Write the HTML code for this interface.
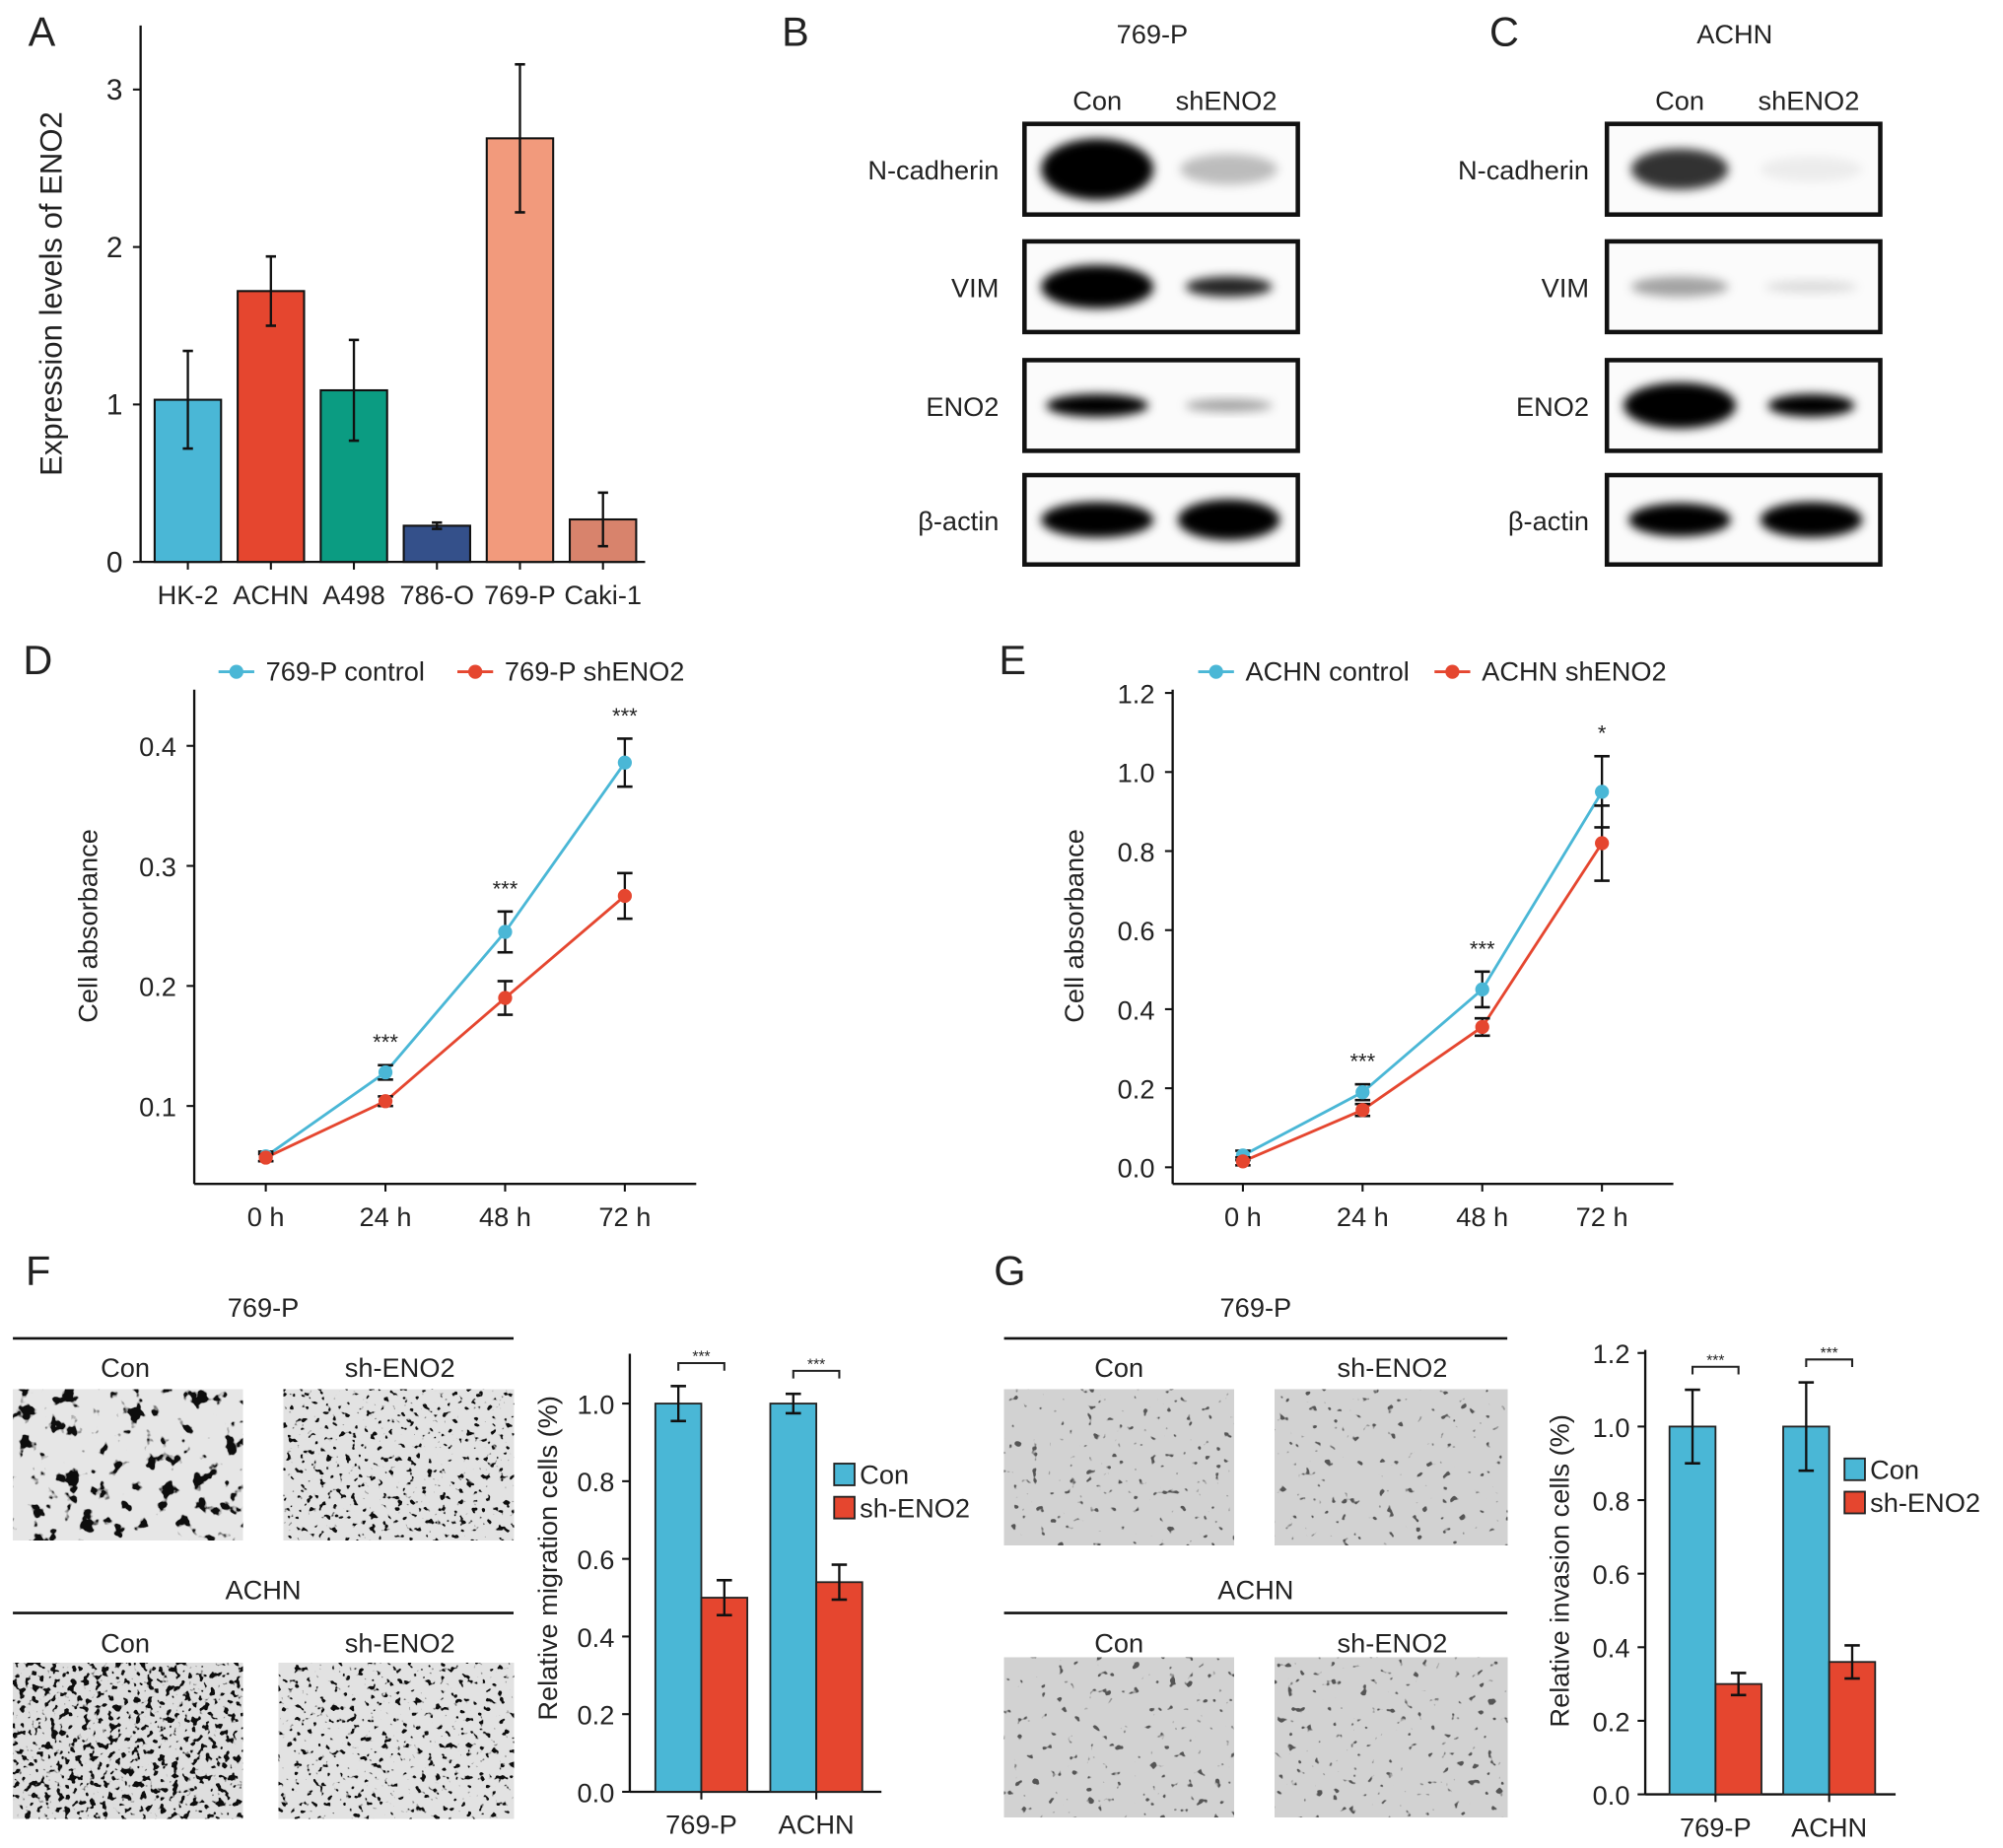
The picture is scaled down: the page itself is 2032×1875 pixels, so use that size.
<!DOCTYPE html>
<html><head><meta charset="utf-8">
<style>
html,body{margin:0;padding:0;background:#fff;}
svg{display:block;font-family:"Liberation Sans",Arial,sans-serif;}
</style></head>
<body>
<svg id="fig" width="2032" height="1875" viewBox="0 0 1568 1447" xmlns="http://www.w3.org/2000/svg">
<defs>
<filter id="blur3" x="-20%" y="-50%" width="140%" height="200%"><feGaussianBlur stdDeviation="4"/></filter>
<filter id="cellsF" x="0" y="0" width="100%" height="100%">
<feTurbulence type="fractalNoise" baseFrequency="0.08" numOctaves="3" seed="3" result="n"/>
<feColorMatrix in="n" type="matrix" values="0 0 0 0 0  0 0 0 0 0  0 0 0 0 0  -14 0 0 0 5.6" result="a"/>
<feFlood flood-color="#111"/><feComposite in2="a" operator="in" result="d"/>
<feFlood flood-color="#e6e6e6" result="bg"/><feMerge><feMergeNode in="bg"/><feMergeNode in="d"/></feMerge>
</filter>
<filter id="cellsF2" x="0" y="0" width="100%" height="100%">
<feTurbulence type="fractalNoise" baseFrequency="0.2" numOctaves="2" seed="7" result="n"/>
<feColorMatrix in="n" type="matrix" values="0 0 0 0 0  0 0 0 0 0  0 0 0 0 0  -14 0 0 0 5.4" result="a"/>
<feFlood flood-color="#111"/><feComposite in2="a" operator="in" result="d"/>
<feFlood flood-color="#e2e2e2" result="bg"/><feMerge><feMergeNode in="bg"/><feMergeNode in="d"/></feMerge>
</filter>
<filter id="cellsF3" x="0" y="0" width="100%" height="100%">
<feTurbulence type="fractalNoise" baseFrequency="0.2" numOctaves="2" seed="9" result="n"/>
<feColorMatrix in="n" type="matrix" values="0 0 0 0 0  0 0 0 0 0  0 0 0 0 0  -14 0 0 0 6.2" result="a"/>
<feFlood flood-color="#111"/><feComposite in2="a" operator="in" result="d"/>
<feFlood flood-color="#dedede" result="bg"/><feMerge><feMergeNode in="bg"/><feMergeNode in="d"/></feMerge>
</filter>
<filter id="cellsG" x="0" y="0" width="100%" height="100%">
<feTurbulence type="fractalNoise" baseFrequency="0.14" numOctaves="2" seed="11" result="n"/>
<feColorMatrix in="n" type="matrix" values="0 0 0 0 0  0 0 0 0 0  0 0 0 0 0  -16 0 0 0 5.0" result="a"/>
<feFlood flood-color="#555"/><feComposite in2="a" operator="in" result="d"/>
<feFlood flood-color="#d2d2d2" result="bg"/><feMerge><feMergeNode in="bg"/><feMergeNode in="d"/></feMerge>
</filter>
</defs>
<g id="root"></g>
</svg>
<script>
// ---- Panel A data ----
const aCats = ["HK-2","ACHN","A498","786-O","769-P","Caki-1"];
const aVals = [1.03,1.72,1.09,0.23,2.69,0.27];
const aErrs = [0.31,0.22,0.32,0.02,0.47,0.17];
const aColors = ["#4ab7d6","#e5462f","#0b9c82","#34508a","#f29a7c","#d8836c"];
const aTicks = [0,1,2,3];
// ---- Panel D data ----
const timeLabels = ["0 h","24 h","48 h","72 h"];
const dCtrl = [0.058,0.128,0.245,0.386];
const dCtrlErr = [0.004,0.006,0.017,0.020];
const dSh = [0.057,0.104,0.190,0.275];
const dShErr = [0.003,0.004,0.014,0.019];
const dTicks = [0.1,0.2,0.3,0.4];
const dStars = ["","***","***","***"];
// ---- Panel E data ----
const eCtrl = [0.03,0.19,0.45,0.95];
const eCtrlErr = [0.012,0.02,0.045,0.09];
const eSh = [0.015,0.145,0.355,0.82];
const eShErr = [0.01,0.015,0.022,0.095];
const eTicks = [0.0,0.2,0.4,0.6,0.8,1.0,1.2];
const eStars = ["","***","***","*"];
// ---- Panel F data ----
const fCats = ["769-P","ACHN"];
const fCon = [1.0,1.0];
const fConErr = [0.045,0.025];
const fSh = [0.50,0.54];
const fShErr = [0.045,0.045];
const fTicks = [0.0,0.2,0.4,0.6,0.8,1.0];
// ---- Panel G data ----
const gCon = [1.0,1.0];
const gConErr = [0.10,0.12];
const gSh = [0.30,0.36];
const gShErr = [0.03,0.045];
const gTicks = [0.0,0.2,0.4,0.6,0.8,1.0,1.2];

const NS="http://www.w3.org/2000/svg";
const root=document.getElementById('root');
function el(tag,attrs,parent,text){const e=document.createElementNS(NS,tag);for(const k in attrs)e.setAttribute(k,attrs[k]);if(text!==undefined)e.textContent=text;(parent||root).appendChild(e);return e;}
function txt(x,y,s,size,anchor,name,parent,extra){const t=el('text',Object.assign({x:x,y:y,'font-size':size,'text-anchor':anchor||'middle',fill:'#222'},extra||{}),parent,s);


return t;}
function ln(x1,y1,x2,y2,w,parent,c){return el('line',{x1:x1,y1:y1,x2:x2,y2:y2,stroke:c||'#111','stroke-width':w||1.6},parent);}
function errbar(x,yTop,yBot,cap,parent){ln(x,yTop,x,yBot,1.8,parent);ln(x-cap,yTop,x+cap,yTop,2,parent);ln(x-cap,yBot,x+cap,yBot,2,parent);}

// panel letters
[["A",22,36],["B",612,36],["C",1166,36],["D",18,528],["E",782,528],["F",20,1006],["G",778,1006]].forEach(l=>{
 txt(l[1],l[2],l[0],32,'start','panel-label-'+l[0].toLowerCase());
});

// ===== Panel A =====
(function(){
 const g=el('g',{});
 
 
 const x0=110,xEnd=505,y0=440,ppu=123.3;
 const Y=v=>y0-v*ppu;
 const X=i=>147+i*65;
 ln(x0,20,x0,y0,1.8,g);ln(x0,y0,xEnd,y0,1.8,g);
 aTicks.forEach(t=>{ln(x0-6,Y(t),x0,Y(t),1.6,g);txt(x0-14,Y(t)+8,String(t),23,'end','y-tick-label',g);});
 aCats.forEach((c,i)=>{
  const r=el('rect',{x:X(i)-26,y:Y(aVals[i]),width:52,height:aVals[i]*ppu,fill:aColors[i],stroke:'#111','stroke-width':1.6},g);
  
  
  errbar(X(i),Y(aVals[i]+aErrs[i]),Y(aVals[i]-aErrs[i]),4,g);
  ln(X(i),y0,X(i),y0+6,1.6,g);
  txt(X(i),y0+33,c,21,'middle','x-tick-label',g);
 });
 txt(0,0,'Expression levels of ENO2',24,'middle','y-axis-title',g,{transform:'translate(48,230) rotate(-90)'});
})();

// ===== Western blots =====
function blot(bx,title,bands,labelRight,id){
 const g=el('g',{});
 
 
 txt(bx+100,34,title,21,'middle','blot-title',g);
 txt(bx+57,86,'Con',21,'middle','lane-label-con',g);
 txt(bx+158,86,'shENO2',21,'middle','lane-label-sheno2',g);
 const rows=[["N-cadherin",97],["VIM",189],["ENO2",282],["β-actin",372]];
 rows.forEach((r,i)=>{
  const y=r[1],h=i==3?70:71;
  el('rect',{x:bx,y:y,width:214,height:h,fill:'#fbfbfb',stroke:'#111','stroke-width':3.5},g);
  const b=bands[i];
  [[bx+57,b[0],b[1],b[2]],[bx+160,b[3],b[4],b[5]]].forEach(bb=>{
   if(bb[3]>0){el('ellipse',{cx:bb[0],cy:y+h/2,rx:bb[1],ry:bb[2],fill:'#000','fill-opacity':bb[3],filter:'url(#blur3)'},g);}
  });
  txt(labelRight,y+h/2+8,r[0],21,'end','protein-label',g);
 });
}
blot(802,'769-P',[[44,24,1,38,12,0.25],[44,17,1,34,8,0.85],[40,9,1,34,5,0.35],[44,14,1,40,16,1]],782,'769p');
blot(1258,'ACHN',[[38,16,0.8,40,10,0.06],[38,8,0.35,36,5,0.12],[44,18,1,34,9,1],[40,13,1,40,14,1]],1244,'achn');

// ===== Line charts =====
function lineChart(opt){
 const g=el('g',{});
 
 
 const Y=v=>opt.yZero-v*opt.ppu;
 const X=i=>opt.xs0+i*opt.dx;
 ln(opt.ax,540,opt.ax,927,1.8,g);ln(opt.ax,927,opt.axEnd,927,1.8,g);
 opt.ticks.forEach(t=>{ln(opt.ax-6,Y(t),opt.ax,Y(t),1.6,g);txt(opt.ax-14,Y(t)+8,t.toFixed(1),21,'end','y-tick-label',g);});
 timeLabels.forEach((l,i)=>{ln(X(i),927,X(i),933,1.6,g);txt(X(i),960,l,21,'middle','x-tick-label',g);});
 [[opt.ctrl,opt.ctrlErr,'#4ab7d6','control'],[opt.sh,opt.shErr,'#e5462f','sheno2']].forEach(s=>{
  const p=el('polyline',{points:s[0].map((v,i)=>X(i)+','+Y(v)).join(' '),fill:'none',stroke:s[2],'stroke-width':2.2},g);
  
  
  s[0].forEach((v,i)=>{
   errbar(X(i),Y(v+s[1][i]),Y(v-s[1][i]),6,g);
   const c=el('circle',{cx:X(i),cy:Y(v),r:5.5,fill:s[2]},g);
   
   
  });
 });
 opt.stars.forEach((s,i)=>{if(s){const top=Math.max(opt.ctrl[i]+opt.ctrlErr[i],opt.sh[i]+opt.shErr[i]);txt(X(i),Y(top)-12,s,17,'middle','significance-stars',g);}});
 const lg=el('g',{},g);
 
 
 ln(opt.lx-14,526,opt.lx+14,526,2.2,lg,'#4ab7d6');el('circle',{cx:opt.lx,cy:526,r:5.5,fill:'#4ab7d6'},lg);
 txt(opt.lx+23,533,opt.l1,21,'start','legend-entry',lg);
 ln(opt.lx2-14,526,opt.lx2+14,526,2.2,lg,'#e5462f');el('circle',{cx:opt.lx2,cy:526,r:5.5,fill:'#e5462f'},lg);
 txt(opt.lx2+23,533,opt.l2,21,'start','legend-entry',lg);
 txt(0,0,'Cell absorbance',21,'middle','y-axis-title',g,{transform:'translate('+opt.ttx+',725) rotate(-90)'});
}
lineChart({name:'panel-d-line-chart',ax:152,axEnd:545,yZero:960,ppu:940,xs0:208,dx:93.7,ticks:dTicks,ctrl:dCtrl,ctrlErr:dCtrlErr,sh:dSh,shErr:dShErr,stars:dStars,lx:185,lx2:372,l1:'769-P control',l2:'769-P shENO2',ttx:76});
lineChart({name:'panel-e-line-chart',ax:918,axEnd:1310,yZero:914,ppu:309.5,xs0:973,dx:93.7,ticks:eTicks,ctrl:eCtrl,ctrlErr:eCtrlErr,sh:eSh,shErr:eShErr,stars:eStars,lx:952,lx2:1137,l1:'ACHN control',l2:'ACHN shENO2',ttx:848});

// ===== Micrographs =====
function micro(x0,xEnd,cols,boxes,filters,id){
 const g=el('g',{});
 
 
 txt((x0+xEnd)/2,1031,'769-P',21,'middle','cell-line-title',g);
 ln(x0,1048,xEnd,1048,2,g);
 txt((x0+xEnd)/2,1252,'ACHN',21,'middle','cell-line-title',g);
 ln(x0,1263,xEnd,1263,2,g);
 [1078,1294].forEach(y=>{txt(cols[0],y,'Con',21,'middle','condition-label',g);txt(cols[1],y,'sh-ENO2',21,'middle','condition-label',g);});
 boxes.forEach((b,i)=>{el('rect',{x:b[0],y:b[1],width:b[2],height:b[3],fill:'#ddd',filter:'url(#'+filters[i]+')'},g);});
}
micro(10,402,[98,313],[[10,1088,180,118],[222,1088,180,118],[10,1302,180,122],[218,1302,184,122]],['cellsF','cellsF2','cellsF3','cellsF2'],'f');
micro(786,1180,[876,1090],[[786,1088,180,122],[998,1088,182,122],[786,1298,180,125],[998,1298,182,125]],['cellsG','cellsG','cellsG','cellsG'],'g');

// ===== Grouped bar charts =====
function groupBar(opt){
 const g=el('g',{});
 
 
 const Y=v=>opt.y0-v*opt.ppu;
 ln(opt.ax,opt.top,opt.ax,opt.y0,1.8,g);ln(opt.ax,opt.y0,opt.axEnd,opt.y0,1.8,g);
 opt.ticks.forEach(t=>{ln(opt.ax-6,Y(t),opt.ax,Y(t),1.6,g);txt(opt.ax-12,Y(t)+8,t.toFixed(1),21,'end','y-tick-label',g);});
 fCats.forEach((c,i)=>{
  const cx=opt.c0+i*opt.gap, w=36;
  [[opt.con,opt.conErr,'#4ab7d6',cx-w,'con'],[opt.sh,opt.shErr,'#e5462f',cx,'sheno2']].forEach(s=>{
   const r=el('rect',{x:s[3],y:Y(s[0][i]),width:w,height:s[0][i]*opt.ppu,fill:s[2],stroke:'#222','stroke-width':1.4},g);
   
   
   errbar(s[3]+w/2,Y(s[0][i]+s[1][i]),Y(s[0][i]-s[1][i]),6,g);
  });
  ln(cx,opt.y0,cx,opt.y0+6,1.6,g);
  txt(cx,opt.y0+33,c,21,'middle','x-tick-label',g);
  const by=Y(opt.con[i]+opt.conErr[i])-18;
  el('path',{d:`M${cx-w/2} ${by+6}V${by}H${cx+w/2}V${by+6}`,fill:'none',stroke:'#222','stroke-width':1.6},g);
  txt(cx,by-1,'***',12,'middle','significance-stars',g);
 });
 const lg=el('g',{},g);
 
 
 el('rect',{x:opt.lx,y:opt.ly,width:16,height:17,fill:'#4ab7d6',stroke:'#222','stroke-width':1.4},lg);
 txt(opt.lx+20,opt.ly+16,'Con',21,'start','legend-entry',lg);
 el('rect',{x:opt.lx,y:opt.ly+26,width:16,height:17,fill:'#e5462f',stroke:'#222','stroke-width':1.4},lg);
 txt(opt.lx+20,opt.ly+42,'sh-ENO2',21,'start','legend-entry',lg);
 txt(0,0,opt.title,21,'middle','y-axis-title',g,{transform:'translate('+opt.ttx+','+opt.tty+') rotate(-90)'});
}
groupBar({name:'panel-f-migration-chart',ax:493,axEnd:690,y0:1403,top:1060,ppu:304,c0:549,gap:90,ticks:fTicks,con:fCon,conErr:fConErr,sh:fSh,shErr:fShErr,lx:653,ly:1146,title:'Relative migration cells (%)',ttx:436,tty:1220});
groupBar({name:'panel-g-invasion-chart',ax:1288,axEnd:1484,y0:1405,top:1057,ppu:288,c0:1343,gap:89,ticks:gTicks,con:gCon,conErr:gConErr,sh:gSh,shErr:gShErr,lx:1444,ly:1142,title:'Relative invasion cells (%)',ttx:1228,tty:1230});
</script>
</body></html>
